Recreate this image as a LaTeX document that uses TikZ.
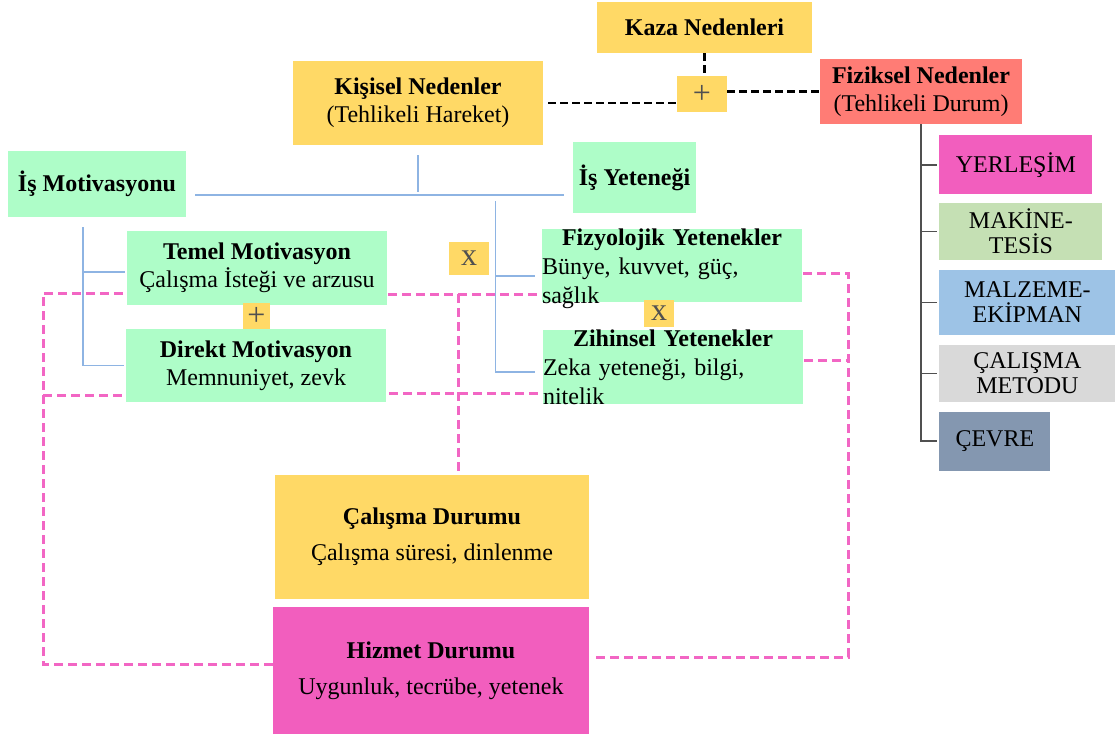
\documentclass[tikz,border=0pt]{standalone}
\usepackage{fontspec}
\setmainfont{Liberation Serif}
\usetikzlibrary{positioning}
\definecolor{kyellow}{HTML}{FFD966}
\definecolor{kmint}{HTML}{AEFDC8}
\definecolor{ksalmon}{HTML}{FF7C75}
\definecolor{kmagenta}{HTML}{F25EBE}
\definecolor{kgreen}{HTML}{C5E0B4}
\definecolor{kblue2}{HTML}{9DC3E6}
\definecolor{kgray}{HTML}{D9D9D9}
\definecolor{kslate}{HTML}{8497B0}
\definecolor{kblue}{HTML}{8EB4E3}
\definecolor{kpink}{HTML}{F266C4}
\definecolor{ktree}{HTML}{505050}
\tikzset{
    cell/.style={
           rectangle,
           inner sep=0pt,
           align=center,
           font=\fontsize{12}{14}\selectfont},
    wh/.style 2 args={minimum width=#1pt, minimum height=#2pt},
    yellowcell/.style={cell, fill=kyellow},
    mintcell/.style={cell, fill=kmint},
    sidecell/.style={cell, font=\fontsize{12}{12.5}\selectfont},
    signcell/.style={cell, fill=kyellow, text=ktree, font=\fontsize{16}{16}\selectfont},
    celltext/.style={inner sep=0pt, text width=130pt, align=left,
           font=\fontsize{12}{14.5}\selectfont},
    % Define line styles
    blackdash/.style={draw=black, line width=1.3pt, dash pattern=on 4pt off 2pt},
    pinkdash/.style={draw=kpink, line width=1.5pt, dash pattern=on 4.5pt off 2.5pt},
    blueline/.style={draw=kblue, line width=0.6pt},
    treeline/.style={draw=ktree, line width=0.7pt}
}
\begin{document}
\begin{tikzpicture}[x=0.5pt, y=-0.5pt]
	\useasboundingbox (0,0) rectangle (1115,735);

	\node[yellowcell, wh={107.5}{25.5}] (kaza) at (704.5,27.5) {\textbf{Kaza Nedenleri}};
	\node[yellowcell, wh={125}{42}] (kisisel) at (418,103) {\textbf{Kişisel Nedenler}\\(Tehlikeli Hareket)};
	\node[signcell, wh={25}{18}] (plusA) at (702,94) {+};
	\node[cell, fill=ksalmon, wh={101}{32.5}] (fiziksel) at (921,91.5) {\textbf{Fiziksel Nedenler}\\(Tehlikeli Durum)};

	\node[sidecell, fill=kmagenta, wh={76.5}{29.5}, anchor=north west] (yerlesim) at (939,135) {YERLEŞİM};
	\node[sidecell, fill=kgreen, wh={81.5}{28.5}, below=4pt of yerlesim.south west, anchor=north west] (makine) {MAKİNE-\\TESİS};
	\node[sidecell, fill=kblue2, wh={88}{32.5}, below=4.5pt of makine.south west, anchor=north west] (malzeme) {MALZEME-\\EKİPMAN};
	\node[sidecell, fill=kgray, wh={88}{28.5}, below=4.5pt of malzeme.south west, anchor=north west] (metod) {ÇALIŞMA\\METODU};
	\node[sidecell, fill=kslate, wh={55.5}{29.5}, below=4.5pt of metod.south west, anchor=north west] (cevre) {ÇEVRE};

	\node[mintcell, wh={89}{33}] (ismot) at (97,184) {\textbf{İş Motivasyonu}};
	\node[mintcell, wh={61.5}{35.5}] (isyet) at (634.5,177.5) {\textbf{İş Yeteneği}};
	\node[mintcell, wh={130}{37}] (temel) at (257,268) {\textbf{Temel Motivasyon}\\Çalışma İsteği ve arzusu};
	\node[signcell, wh={13.5}{13}] (plusB) at (256.5,316) {+};
	\node[mintcell, wh={130}{36.5}] (direkt) at (256,365.5) {\textbf{Direkt Motivasyon}\\Memnuniyet, zevk};

	\node[mintcell, wh={130}{36.5}] (fizyo) at (672,265.5) {};
	\node[celltext, anchor=north] (fizyotext) at (fizyo.north) {\makebox[130pt]{\textbf{Fizyolojik Yetenekler}}\\Bünye, kuvvet, güç,\\sağlık};
	\node[mintcell, wh={130}{37}] (zihin) at (673,367) {};
	\node[celltext, anchor=north] (zihintext) at (zihin.north) {\makebox[130pt]{\textbf{Zihinsel Yetenekler}}\\Zeka yeteneği, bilgi,\\nitelik};
	\node[signcell, wh={20}{16.5}] (xA) at (469,258.5) {x};
	\node[signcell, wh={15}{13.5}] (xB) at (659,313.5) {x};

	\node[yellowcell, wh={157}{62}] (calisma) at (432,537) {\textbf{Çalışma Durumu}\\[4pt]Çalışma süresi, dinlenme};
	\node[cell, fill=kmagenta, wh={158}{63.5}] (hizmet) at (431,670.5) {\textbf{Hizmet Durumu}\\[4pt]Uygunluk, tecrübe, yetenek};

	% main causes
	\draw[blackdash] (kaza.south) -- (kaza.south |- plusA.north);
	\draw[blackdash] ([xshift=2.5pt]kisisel.east) -- (kisisel.east -| plusA.west);
	\draw[blackdash] (plusA.east |- fiziksel.west) -- (fiziksel.west);

	\draw[treeline] (fiziksel.south) |- ([xshift=-1pt]cevre.west);
	\foreach \n in {yerlesim, makine, malzeme, metod}
		\draw[treeline] (fiziksel.south |- \n.west) -- ([xshift=-1pt]\n.west);

	% personal causes
	\coordinate (hub) at (418,195);
	\draw[blueline] ([yshift=-5pt]kisisel.south) -- ([yshift=1.5pt]hub);
	\draw[blueline] ([shift={(9,11)}]ismot.east) -- ([shift={(-9,17.5)}]isyet.west);
	\coordinate (motroot) at ([shift={(-14,10)}]ismot.south);
	\draw[blueline] (motroot) |- ([xshift=-1pt]direkt.west);
	\draw[blueline] ([shift={(-2,4)}]temel.west) -| (motroot);
	\coordinate (yetroot) at ([shift={(-77,-12)}]isyet.south west);
	\draw[blueline] (yetroot) |- ([shift={(-8,5)}]zihin.west);
	\draw[blueline] ([shift={(-7,10.5)}]fizyo.west) -| (yetroot);

	\coordinate (loopL) at (43,664);
	\coordinate (loopR) at (848,657);
	\draw[pinkdash] ([shift={(-4,25)}]temel.west) -| (loopL) -- ([yshift=3.25pt]hizmet.west);
	\coordinate (dirL) at ([shift={(-4,29.5)}]direkt.west);
	\draw[pinkdash] (dirL) -- (dirL -| loopL);
	\coordinate (temR) at ([shift={(1,26)}]temel.east);
	\draw[pinkdash] (temR) -- (temR -| fizyo.west);
	\coordinate (ctop) at ([xshift=13pt]calisma.north);
	\draw[pinkdash] (ctop |- temR) -- (ctop);
	\coordinate (dirR) at ([shift={(3,27.5)}]direkt.east);
	\draw[pinkdash] (dirR) -- (dirR -| zihin.west);
	\draw[pinkdash] ([shift={(1,7.5)}]fizyo.east) -| (loopR) -- ([shift={(4,-13.5)}]hizmet.east);
	\coordinate (zihR) at ([shift={(1,-7)}]zihin.east);
	\draw[pinkdash] (zihR) -- (zihR -| loopR);
\end{tikzpicture}
\end{document}
